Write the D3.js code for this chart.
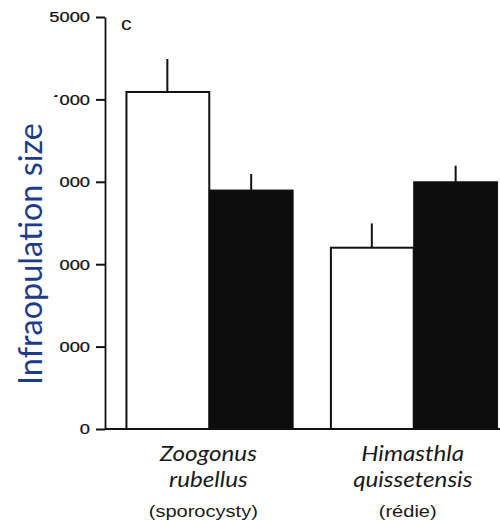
<!DOCTYPE html>
<html>
<head>
<meta charset="utf-8">
<script src="https://cdn.jsdelivr.net/npm/d3@7"></script>
<style>
  html, body { margin: 0; padding: 0; background: #fff; }
  svg { display: block; }
</style>
</head>
<body>
<svg id="chart" width="500" height="521"></svg>
<script>
// ---- data ----
const genera   = ["Zoogonus", "Himasthla"];
const species  = ["rubellus", "quissetensis"];
const stages   = ["(sporocysty)", "(rédie)"];
const seriesKeys = ["white", "black"];
const whiteValues = [4090, 2200];
const whiteErrors = [400, 295];
const blackValues = [2900, 3000];
const blackErrors = [195, 195];
const yTicks = [0, 1000, 2000, 3000, 4000, 5000];
const panelLetter = "c";
const yTitle = "Infraopulation size";

const groups = genera.map((g, i) => ({
  key: g + " " + species[i],
  lines: [g, species[i], stages[i]],
  bars: [
    { s: "white", v: whiteValues[i], e: whiteErrors[i] },
    { s: "black", v: blackValues[i], e: blackErrors[i] }
  ]
}));

// ---- layout ----
const svg = d3.select("#chart");
const X0 = 105, X1 = 518, Y0 = 429, Y1 = 17;
const ARIAL = "'Liberation Sans', Arial, sans-serif";
const STRETCH = 1.18;

const y = d3.scaleLinear().domain([0, 5000]).range([Y0, Y1]);
const x = d3.scaleBand().domain(groups.map(d => d.key)).range([X0, X1])
  .paddingInner(0.18).paddingOuter(0.1);
const xs = d3.scaleBand().domain(seriesKeys).range([0, x.bandwidth()]);

// bars
const g = svg.append("g").selectAll("g").data(groups).join("g")
  .attr("transform", d => `translate(${x(d.key)},0)`);

g.selectAll("line.err").data(d => d.bars).join("line")
  .attr("class", "err")
  .attr("x1", d => xs(d.s) + xs.bandwidth() / 2)
  .attr("x2", d => xs(d.s) + xs.bandwidth() / 2)
  .attr("y1", d => y(d.v))
  .attr("y2", d => y(d.v + d.e))
  .attr("stroke", "#111").attr("stroke-width", 2);

g.selectAll("rect").data(d => d.bars).join("rect")
  .attr("x", d => xs(d.s) + (d.s === "white" ? 1 : 0))
  .attr("width", d => xs.bandwidth() - (d.s === "white" ? 1 : 0))
  .attr("y", d => y(d.v))
  .attr("height", d => Y0 - y(d.v))
  .attr("fill", d => d.s === "white" ? "#fff" : "#0d0d0d")
  .attr("stroke", "#111")
  .attr("stroke-width", d => d.s === "white" ? 2 : 1);

// y axis (ticks drawn explicitly from the scale)
const yAxis = svg.append("g").attr("transform", `translate(${X0},0)`)
  .call(d3.axisLeft(y).tickValues(yTicks).tickFormat(d3.format("d"))
    .tickSize(0).tickSizeOuter(0).tickPadding(15));
yAxis.select(".domain").attr("stroke", "#111").attr("stroke-width", 1.8);
yAxis.selectAll(".tick").append("path")
  .attr("d", "M-9,0H0")
  .attr("stroke", "#111").attr("stroke-width", 2).attr("fill", "none");
yAxis.selectAll(".tick text")
  .attr("font-family", ARIAL).attr("font-size", 15.5).attr("fill", "#111")
  .attr("stroke", "#111").attr("stroke-width", 0.25)
  .attr("x", 0)
  .attr("transform", `translate(-15,0) scale(${STRETCH},1)`);

// x axis baseline
svg.append("line").attr("x1", X0).attr("x2", 500).attr("y1", Y0).attr("y2", Y0)
  .attr("stroke", "#111").attr("stroke-width", 1.8);

// category labels
const lineY = [461, 487, 517];
const lineDx = [-1, -1, -6];
const lab = svg.append("g").selectAll("g").data(groups).join("g")
  .attr("transform", d => `translate(${x(d.key) + x.bandwidth() / 2},0)`);
lab.each(function (d) {
  const gg = d3.select(this);
  d.lines.forEach((t, i) => {
    const tx = gg.append("text").text(t)
      .attr("text-anchor", "middle").attr("fill", "#1a1a1a");
    if (i < 2) {
      tx.attr("font-family", "Lato, 'Open Sans', sans-serif").attr("font-style", "italic")
        .attr("font-size", 22)
        .attr("transform", `translate(${lineDx[i]},${lineY[i]}) scale(1.1,1)`);
    } else {
      tx.attr("font-family", ARIAL).attr("font-size", 17)
        .attr("transform", `translate(${lineDx[i]},${lineY[i]}) scale(${STRETCH},1)`);
    }
  });
});

// panel letter
svg.append("text").text(panelLetter)
  .attr("transform", `translate(121,30) scale(${STRETCH},1)`)
  .attr("font-family", ARIAL).attr("font-size", 18).attr("fill", "#111");

// white patch of the overlaid title, then the title
svg.append("rect").attr("x", 0).attr("y", 97).attr("width", 59).attr("height", 305)
  .attr("fill", "#fff");
svg.append("text").text(yTitle)
  .attr("transform", "translate(42,254) rotate(-90)")
  .attr("text-anchor", "middle")
  .attr("font-family", "Lato, 'Open Sans', sans-serif")
  .attr("font-size", 33).attr("fill", "#1f3c88")
  .attr("textLength", 262).attr("lengthAdjust", "spacingAndGlyphs");
</script>
</body>
</html>
